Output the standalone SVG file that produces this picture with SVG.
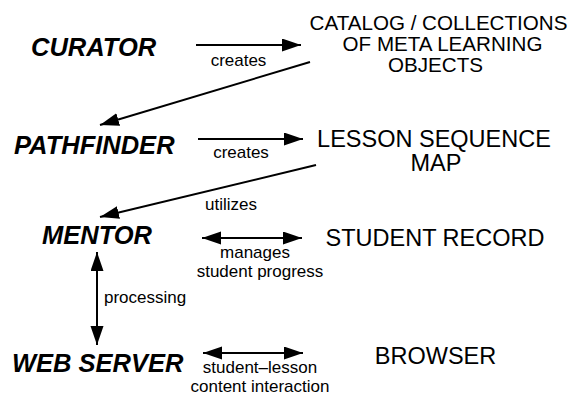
<svg xmlns="http://www.w3.org/2000/svg" width="582" height="400" viewBox="0 0 582 400">
<defs>
<style>
.role{font-family:"Liberation Sans",Arial,sans-serif;font-weight:bold;font-style:italic;font-size:25.5px;fill:#000}
.obj{font-family:"Liberation Sans",Arial,sans-serif;font-size:23.5px;fill:#000;text-anchor:middle}
.cat{font-family:"Liberation Sans",Arial,sans-serif;font-size:20.6px;fill:#000;text-anchor:middle}
.lbl{font-family:"Liberation Sans",Arial,sans-serif;font-size:17px;fill:#000;text-anchor:middle}
.conn line{stroke:#000;stroke-width:2;fill:none}
</style>
<marker id="ah" markerUnits="userSpaceOnUse" markerWidth="20" markerHeight="14" refX="19" refY="6.5" orient="auto-start-reverse">
<path d="M0,0 L19,6.5 L0,13 z" fill="#000"/>
</marker>
</defs>
<rect width="582" height="400" fill="#fff"/>
<g id="curator"><text class="role" x="31" y="56">CURATOR</text></g>
<g id="pathfinder"><text class="role" x="14" y="154">PATHFINDER</text></g>
<g id="mentor"><text class="role" x="42" y="244">MENTOR</text></g>
<g id="webserver"><text class="role" x="12" y="372">WEB SERVER</text></g>
<g id="catalog">
<text class="cat" x="438.5" y="30">CATALOG / COLLECTIONS</text>
<text class="cat" x="442.5" y="51">OF META LEARNING</text>
<text class="cat" x="435.5" y="72">OBJECTS</text>
</g>
<g id="lessonmap">
<text class="obj" x="434" y="147">LESSON SEQUENCE</text>
<text class="obj" x="436" y="171">MAP</text>
</g>
<g id="studentrecord"><text class="obj" x="435" y="246">STUDENT RECORD</text></g>
<g id="browser"><text class="obj" x="435.5" y="364">BROWSER</text></g>
<g id="connectors" class="conn">
<line x1="196" y1="45" x2="301" y2="45" marker-end="url(#ah)"/>
<line x1="310" y1="62" x2="100" y2="125" marker-end="url(#ah)"/>
<line x1="198" y1="139" x2="303" y2="139" marker-end="url(#ah)"/>
<line x1="316" y1="165" x2="100" y2="217" marker-end="url(#ah)"/>
<line x1="202" y1="238" x2="302" y2="238" marker-start="url(#ah)" marker-end="url(#ah)"/>
<line x1="97" y1="252" x2="97" y2="345" marker-start="url(#ah)" marker-end="url(#ah)"/>
<line x1="203" y1="353" x2="303" y2="353" marker-start="url(#ah)" marker-end="url(#ah)"/>
</g>
<g id="labels">
<text class="lbl" x="238.5" y="66">creates</text>
<text class="lbl" x="241" y="158">creates</text>
<text class="lbl" x="231" y="210">utilizes</text>
<text class="lbl" x="255" y="258">manages</text>
<text class="lbl" x="260" y="277">student progress</text>
<text class="lbl" x="104" y="303" style="text-anchor:start">processing</text>
<text class="lbl" x="260" y="373">student–lesson</text>
<text class="lbl" x="260" y="392">content interaction</text>
</g>
</svg>
